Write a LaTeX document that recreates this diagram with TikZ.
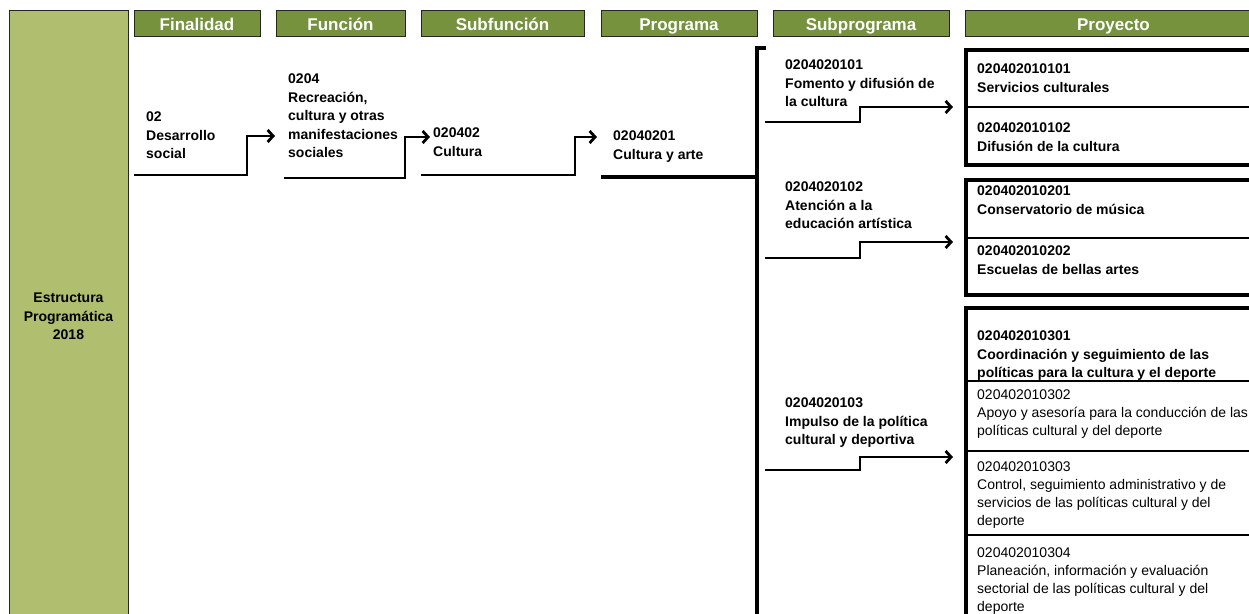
\documentclass[tikz,border=0pt]{standalone}
\usepackage{fontspec}
\setmainfont{Liberation Sans}
\usetikzlibrary{arrows.meta,positioning}
\definecolor{olive}{RGB}{118,146,60}
\definecolor{paleolive}{RGB}{175,191,111}

\begin{document}
\begin{tikzpicture}[x=1pt,y=-1pt,
 hdr/.style={draw=black!85,line width=1pt,fill=olive,text=white,inner sep=0pt,minimum height=26pt,text height=14.5pt,text depth=1pt,font=\fontsize{17}{18}\selectfont\bfseries},
 item/.style={anchor=north west,align=left,inner sep=0pt,font=\fontsize{14}{18.4}\selectfont\bfseries},
 itemr/.style={item,font=\fontsize{14}{18}\selectfont},
 conn/.style={line width=2.8pt},
 arr/.style={conn,-{Straight Barb[length=5.5pt,width=12pt]}},
 grp/.style={line width=4pt},
 sep/.style={line width=2.4pt}]
\useasboundingbox (0,0) rectangle (1249,613);
\node[draw=black!85,line width=1pt,fill=paleolive,minimum width=119pt,minimum height=612pt,align=center,inner sep=0pt,font=\fontsize{14}{18.5}\selectfont\bfseries] (ep) at (68.5,316.7) {Estructura\\Programática\\2018};
\node[hdr,minimum width=126pt] (h1) at (197,23.7) {Finalidad};
\node[hdr,minimum width=129pt] (h2) at (340.5,23.7) {Función};
\node[hdr,minimum width=163pt] (h3) at (502.5,23.7) {Subfunción};
\node[hdr,minimum width=156pt] (h4) at (679,23.7) {Programa};
\node[hdr,minimum width=176pt] (h5) at (861,23.7) {Subprograma};
\node[hdr,minimum width=297pt] (h6) at (1113.5,23.7) {Proyecto};
\node[item] (fin) at (146,112) {02\\Desarrollo\\social};
\node[item] (fun) at (288,74) {0204\\Recreación,\\cultura y otras\\manifestaciones\\sociales};
\node[item] (sfun) at (433,128) {020402\\Cultura};
\node[item] (prog) at (613,131) {02040201\\Cultura y arte};
\node[item] (sp1) at (785,60) {0204020101\\Fomento y difusión de\\la cultura};
\node[item] (sp2) at (785,182) {0204020102\\Atención a la\\educación artística};
\node[item] (sp3) at (785,398) {0204020103\\Impulso de la política\\cultural y deportiva};
\node[item] (p11) at (977,64) {020402010101\\Servicios culturales};
\node[item] (p12) at (977,123) {020402010102\\Difusión de la cultura};
\node[item] (p21) at (977,186) {020402010201\\Conservatorio de música};
\node[item] (p22) at (977,246) {020402010202\\Escuelas de bellas artes};
\node[item] (p31) at (977,331) {020402010301\\Coordinación y seguimiento de las\\políticas para la cultura y el deporte};
\node[itemr] (p32) at (977,390) {020402010302\\Apoyo y asesoría para la conducción de las\\políticas cultural y del deporte};
\node[itemr] (p33) at (977,462) {020402010303\\Control, seguimiento administrativo y de\\servicios de las políticas cultural y del\\deporte};
\node[itemr] (p34) at (977,548) {020402010304\\Planeación, información y evaluación\\sectorial de las políticas cultural y del\\deporte};
\coordinate (s1) at (134,175); \coordinate (e1) at (275,136);
\coordinate (s2) at (284,178); \coordinate (e2) at (430,137);
\coordinate (s3) at (421,175); \coordinate (e3) at (597,137);
\coordinate (s4) at (765,122); \coordinate (e4) at (953,107);
\coordinate (s5) at (765,258); \coordinate (e5) at (953,242);
\coordinate (s6) at (765,470); \coordinate (e6) at (953,457);
\coordinate (bt) at (766,48); \coordinate (bb) at (757,630);
\draw[arr] (s1) -| ([xshift=-28pt]e1) -- (e1);
\draw[arr] (s2) -| ([xshift=-25pt]e2) -- (e2);
\draw[arr] (s3) -| ([xshift=-22pt]e3) -- (e3);
\draw[conn,line width=3.2pt] (bt) -| (bb);
\draw[conn,line width=3.2pt] (601,177) -- (bb |- 0,177);
\draw[arr] (s4) -| ([xshift=-93pt]e4) -- (e4);
\draw[arr] (s5) -| ([xshift=-93pt]e5) -- (e5);
\draw[arr] (s6) -| ([xshift=-93pt]e6) -- (e6);
\draw[grp] (966,50) rectangle (1262,164.5);
\draw[sep] (966,107) -- (1262,107);
\draw[grp] (966,179.5) rectangle (1262,295);
\draw[sep] (966,238) -- (1262,238);
\draw[grp] (966,308) rectangle (1262,640);
\draw[sep] (966,381) -- (1262,381);
\draw[sep] (966,451) -- (1262,451);
\draw[sep] (966,535) -- (1262,535);
\end{tikzpicture}
\end{document}
